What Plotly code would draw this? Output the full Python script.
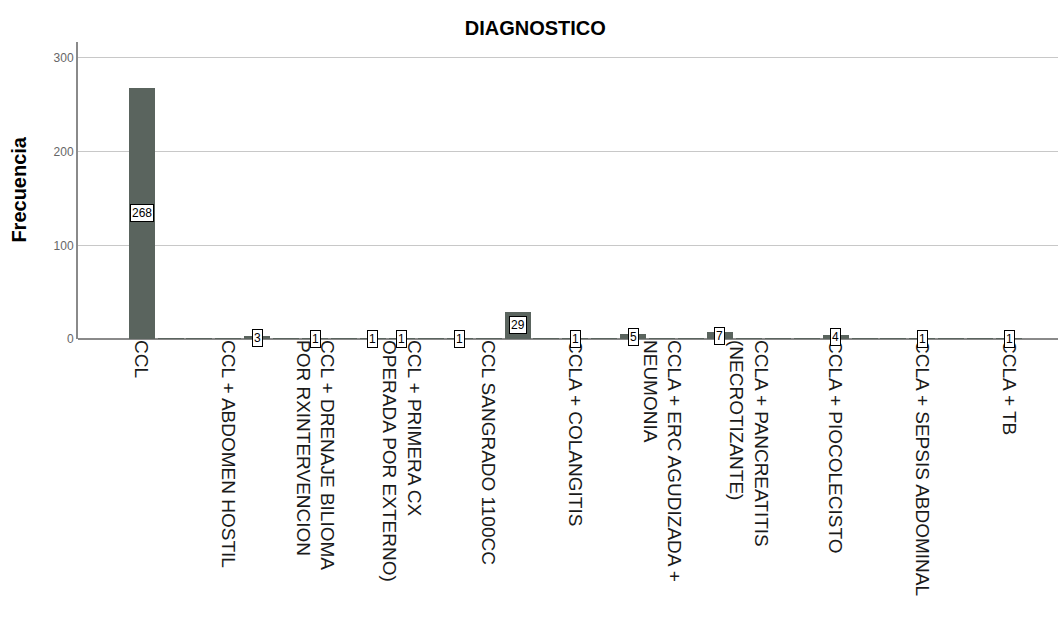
import plotly.graph_objects as go

# Frequencies per category slot (31 categories; axis labels shown every 3rd, as in the source)
values = [268, 1, 1, 1, 3, 1, 1, 1, 1, 1, 1, 1, 1, 29, 1, 1, 1, 5, 1, 1,
          7, 1, 1, 1, 4, 1, 1, 1, 1, 1, 1]
# Which bars carry a visible data label in the source
labelled = [True, False, False, False, True, False, True, False, True, True,
            False, True, False, True, False, True, False, True, False, False,
            True, False, False, False, True, False, False, True, False, False, True]
tick_labels = [
    "CCL",
    "CCL + ABDOMEN HOSTIL",
    "CCL + DRENAJE BILIOMA<br>POR RXINTERVENCION",
    "CCL + PRIMERA CX<br>OPERADA POR EXTERNO)",
    "CCL SANGRADO 1100CC",
    "CCLA + COLANGITIS",
    "CCLA + ERC AGUDIZADA +<br>NEUMONIA",
    "CCLA + PANCREATITIS<br>(NECROTIZANTE)",
    "CCLA + PIOCOLECISTO",
    "CCLA + SEPSIS ABDOMINAL",
    "CCLA + TB",
]
tick_step = 3
FONT = "Liberation Sans, Arial"

idx = list(range(len(values)))
tickvals = [i * tick_step for i in range(len(tick_labels))]

fig = go.Figure()
fig.add_trace(go.Bar(
    x=idx, y=values, width=0.9,
    marker=dict(color="#5a645e", line=dict(width=0)),
    hoverinfo="x+y",
))

for i, (v, show) in enumerate(zip(values, labelled)):
    if show:
        fig.add_annotation(
            x=i, y=v / 2, text=str(v), showarrow=False,
            font=dict(family=FONT, size=12, color="black"),
            bgcolor="white", bordercolor="black", borderwidth=1, borderpad=1,
        )

fig.add_annotation(
    xref="paper", yref="paper", x=-0.0605, y=0.502, text="<b>Frecuencia</b>",
    textangle=-90, showarrow=False, xanchor="center", yanchor="middle",
    font=dict(family=FONT, size=20, color="black"),
)

fig.update_layout(
    width=1060, height=622,
    margin=dict(l=78, r=2, t=42, b=283),
    plot_bgcolor="white", paper_bgcolor="white",
    showlegend=False,
    bargap=0,
    title=dict(text="<b>DIAGNOSTICO</b>", x=0.505, xanchor="center", y=0.955, yanchor="middle",
               font=dict(family=FONT, size=20, color="black")),
    font=dict(family=FONT),
)
fig.update_xaxes(
    range=[-2.2, 31.69], tickmode="array", tickvals=tickvals, ticktext=tick_labels,
    tickangle=90, tickfont=dict(family=FONT, size=19, color="#1a1a1a"),
    showgrid=False, showline=False, zeroline=False, ticks="", ticklen=0,
    automargin=False,
)
fig.update_yaxes(
    range=[0, 317], tickvals=[0, 100, 200, 300],
    tickfont=dict(family=FONT, size=12, color="#666"),
    showgrid=True, gridcolor="#c8c8c8", gridwidth=1,
    zeroline=True, zerolinecolor="#8a8a8a", zerolinewidth=2,
    showline=True, linecolor="#8a8a8a", linewidth=2,
    ticks="", ticklen=0, automargin=False,
)

fig.write_html("out.html", config={"displayModeBar": False},
               post_script="document.body.style.margin='0';")
